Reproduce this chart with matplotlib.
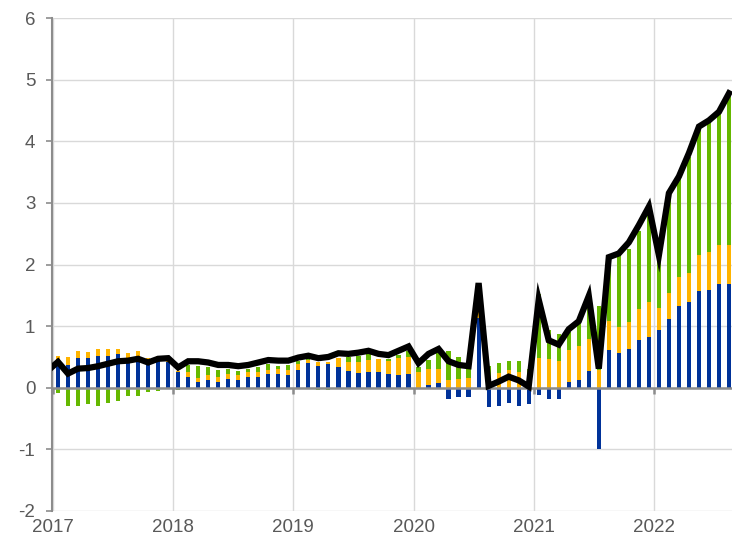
import numpy as np
import matplotlib
matplotlib.use("Agg")
import matplotlib.pyplot as plt

plt.rcParams['font.family'] = ['Liberation Sans', 'DejaVu Sans']
plt.rcParams['axes.unicode_minus'] = False

# monthly data, Jan 2017 - Aug 2022
years = ['2017', '2018', '2019', '2020', '2021', '2022']

blue = [0.47, 0.37, 0.48, 0.48, 0.51, 0.51, 0.54, 0.49, 0.51, 0.45, 0.50, 0.41,   # 2017
        0.25, 0.17, 0.09, 0.12, 0.10, 0.15, 0.12, 0.17, 0.17, 0.22, 0.23, 0.20,   # 2018
        0.29, 0.40, 0.36, 0.38, 0.34, 0.28, 0.24, 0.26, 0.26, 0.22, 0.21, 0.23,   # 2019
        0.00, 0.05, 0.07, -0.18, -0.15, -0.15, 1.14, -0.32, -0.30, -0.25, -0.30, -0.26,  # 2020
        -0.11, -0.19, -0.19, 0.09, 0.13, 0.28, -0.99, 0.61, 0.57, 0.63, 0.77, 0.83,  # 2021
        0.93, 1.11, 1.32, 1.39, 1.57, 1.58, 1.69, 1.68]                             # 2022

yellow = [0.04, 0.13, 0.12, 0.10, 0.12, 0.12, 0.09, 0.07, 0.08, 0.03, 0.01, 0.03,
          0.02, 0.08, 0.07, 0.08, 0.08, 0.07, 0.08, 0.08, 0.08, 0.07, 0.07, 0.09,
          0.10, 0.05, 0.05, 0.04, 0.15, 0.14, 0.17, 0.19, 0.20, 0.22, 0.27, 0.27,
          0.26, 0.25, 0.23, 0.12, 0.14, 0.16, 0.12, 0.02, 0.24, 0.29, 0.26, 0.12,
          0.49, 0.46, 0.43, 0.53, 0.54, 0.51, 0.29, 0.47, 0.41, 0.43, 0.51, 0.56,
          0.36, 0.43, 0.47, 0.48, 0.59, 0.63, 0.62, 0.63]

green = [-0.08, -0.29, -0.29, -0.27, -0.29, -0.24, -0.21, -0.14, -0.13, -0.07, -0.05, -0.02,
         -0.03, 0.12, 0.20, 0.13, 0.11, 0.08, 0.08, 0.06, 0.09, 0.09, 0.06, 0.08,
         0.04, 0.01, -0.04, -0.04, 0.00, 0.08, 0.10, 0.09, 0.01, 0.03, 0.05, 0.09,
         0.08, 0.15, 0.26, 0.47, 0.36, 0.21, 0.35, 0.33, 0.16, 0.15, 0.17, 0.18,
         1.04, 0.48, 0.44, 0.28, 0.38, 0.66, 1.04, 1.05, 1.18, 1.20, 1.27, 1.49,
         0.81, 1.65, 1.62, 1.87, 2.07, 2.10, 2.14, 2.43]

# total, starting Dec 2016
total = [0.28,
         0.42, 0.23, 0.31, 0.32, 0.35, 0.39, 0.43, 0.44, 0.47, 0.41, 0.47, 0.48,
         0.33, 0.43, 0.43, 0.41, 0.37, 0.37, 0.35, 0.37, 0.41, 0.45, 0.44, 0.44,
         0.49, 0.52, 0.48, 0.50, 0.56, 0.55, 0.57, 0.60, 0.55, 0.53, 0.60, 0.67,
         0.40, 0.55, 0.63, 0.43, 0.37, 0.35, 1.70, 0.03, 0.10, 0.18, 0.12, 0.02,
         1.43, 0.77, 0.70, 0.95, 1.08, 1.49, 0.31, 2.12, 2.18, 2.36, 2.64, 2.94,
         2.15, 3.16, 3.43, 3.81, 4.24, 4.34, 4.48, 4.78]

colors = ['#003299', '#FFB400', '#65B800']

fig = plt.figure(figsize=(7.32, 5.5), dpi=100)
ax = fig.add_axes([0.071, 0.071, 0.929, 0.896])

x = np.arange(len(blue))
pos_base = np.zeros(len(x))
neg_base = np.zeros(len(x))
for series, c in zip([blue, yellow, green], colors):
    v = np.array(series)
    pos = np.where(v > 0, v, 0)
    neg = np.where(v < 0, v, 0)
    ax.bar(x, pos, bottom=pos_base, width=0.42, color=c, zorder=2)
    ax.bar(x, neg, bottom=neg_base, width=0.42, color=c, zorder=2)
    pos_base += pos
    neg_base += neg

ax.plot(np.arange(-1, len(blue)), total, color='black', lw=4.5,
        solid_joinstyle='miter', zorder=4)

ax.set_ylim(-2, 6)
ax.set_xlim(-0.6, 67.3)

year_pos = np.arange(len(years)) * 12 - 0.5
ax.set_xticks(year_pos)
ax.set_xticklabels(years)
ax.set_yticks(range(-2, 7))

ax.grid(True, color='#d9d9d9', lw=1, zorder=0)
ax.axhline(0, color='#8c8c8c', lw=1.8, zorder=3)
ax.vlines(year_pos, -0.1, 0, color='#8c8c8c', lw=1.8, zorder=3)

for s in ['top', 'right', 'bottom']:
    ax.spines[s].set_visible(False)
ax.spines['left'].set_color('#8c8c8c')
ax.spines['left'].set_linewidth(1.5)

ax.tick_params(axis='x', length=0, pad=6, labelsize=13.5, colors='#595959')
ax.tick_params(axis='y', length=4, width=1.2, color='#8c8c8c', pad=8,
               labelsize=13.5, labelcolor='#595959')

fig.savefig('out.png', dpi=100)
